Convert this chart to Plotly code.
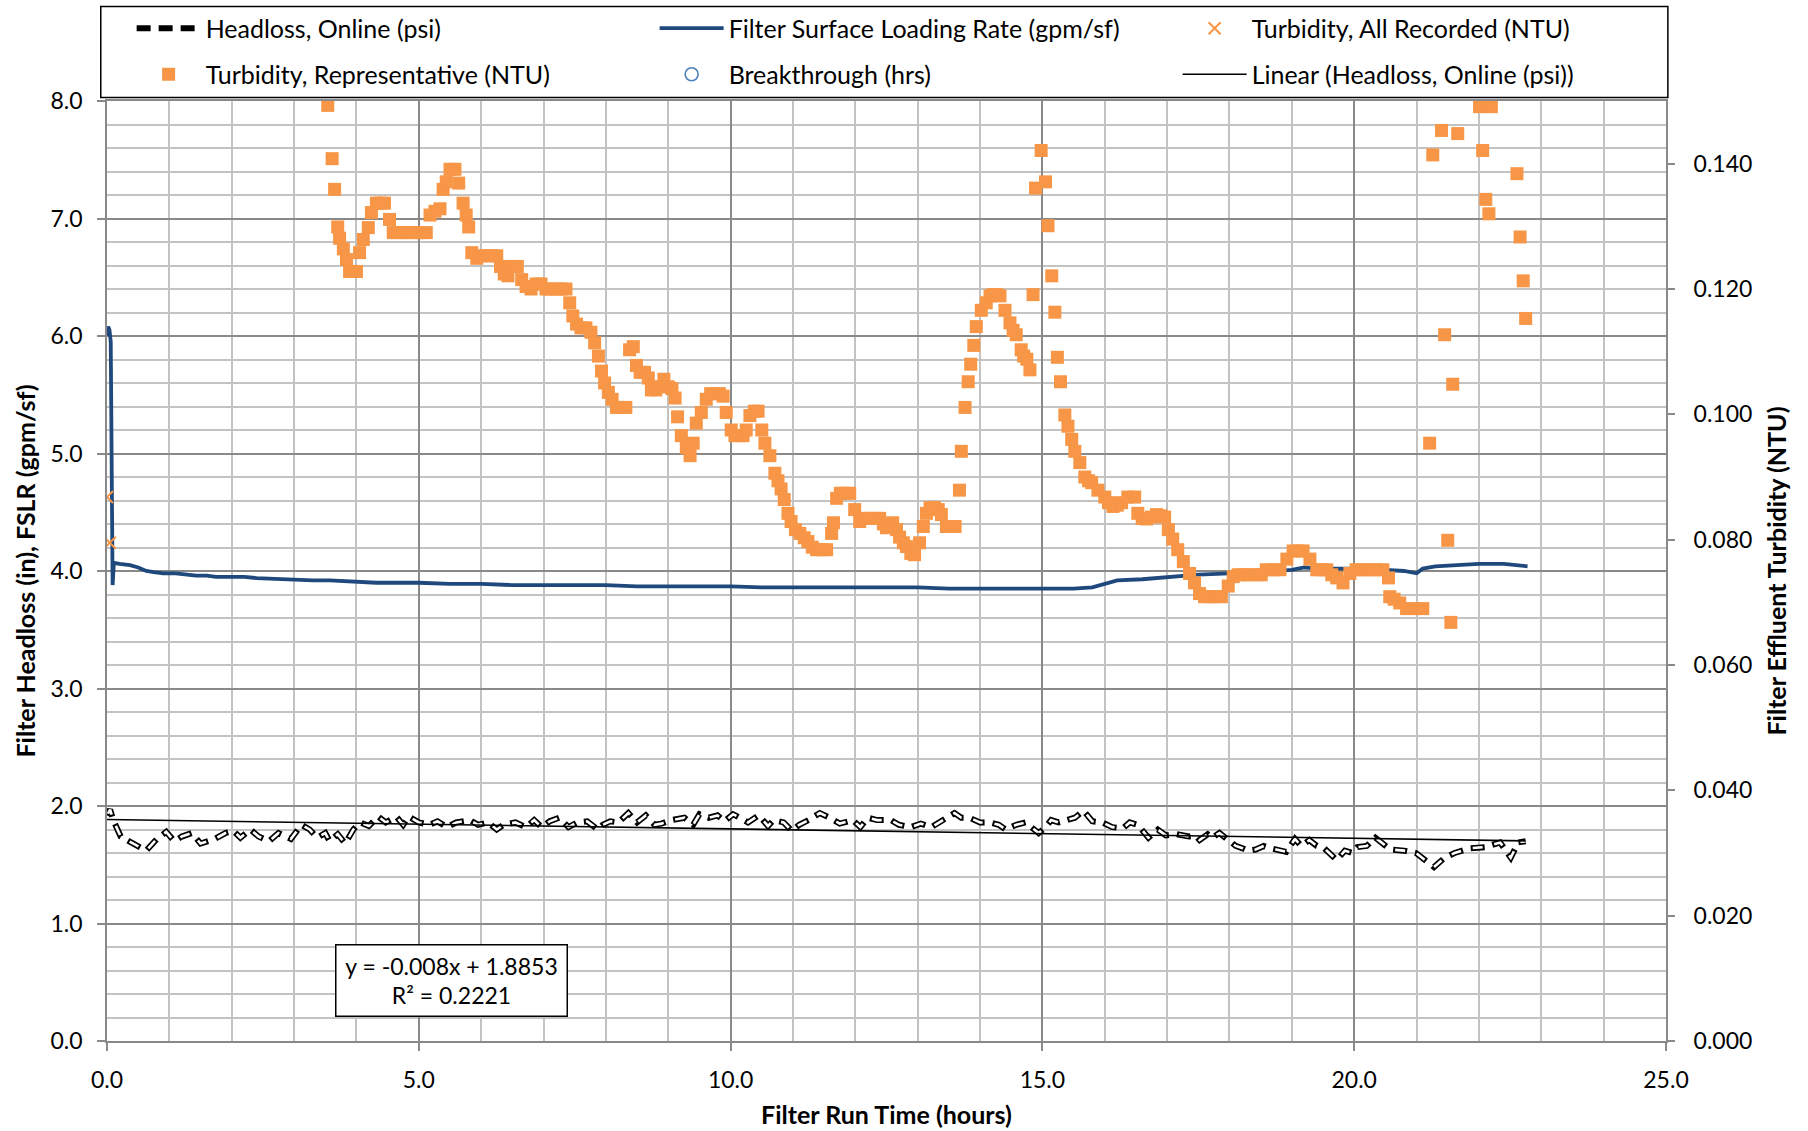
import plotly.graph_objects as go

# --- data ---
fslr_t = [0.00, 0.02, 0.04, 0.06, 0.09, 0.11, 0.20, 0.37, 0.50, 0.63, 0.75, 0.90, 1.10, 1.25, 1.43,
          1.60, 1.75, 1.97, 2.20, 2.40, 2.77, 3.00, 3.30, 3.57, 4.00, 4.32, 5.00, 5.50, 6.00, 6.50,
          7.00, 7.50, 8.00, 8.50, 9.00, 9.50, 10.00, 10.50, 11.00, 11.50, 12.00, 12.50, 13.00, 13.50,
          14.00, 14.50, 15.00, 15.50, 15.80, 16.00, 16.20, 16.60, 17.00, 17.50, 18.00, 18.50, 19.00,
          19.20, 19.50, 20.00, 20.50, 20.80, 21.00, 21.10, 21.30, 21.60, 22.00, 22.40, 22.78]
fslr_v = [6.00, 6.08, 6.05, 5.95, 3.88, 4.07, 4.06, 4.05, 4.03, 4.00, 3.99, 3.98, 3.98, 3.97, 3.96,
          3.96, 3.95, 3.95, 3.95, 3.94, 3.93, 3.93, 3.92, 3.92, 3.91, 3.90, 3.90, 3.89, 3.89, 3.88,
          3.88, 3.88, 3.88, 3.87, 3.87, 3.87, 3.87, 3.86, 3.86, 3.86, 3.86, 3.86, 3.86, 3.85,
          3.85, 3.85, 3.85, 3.85, 3.86, 3.89, 3.92, 3.93, 3.95, 3.97, 3.98, 3.99, 4.01,
          4.03, 4.02, 4.02, 4.01, 4.00, 3.98, 4.02, 4.04, 4.05, 4.06, 4.06, 4.04]

headloss_t = [0.00, 0.05, 0.10, 0.22, 0.35, 0.46, 0.63, 0.80, 0.95, 1.08, 1.20, 1.36, 1.50, 1.73, 1.90,
              2.02, 2.14, 2.30, 2.43, 2.60, 2.75, 2.95, 3.12, 3.25, 3.37, 3.50, 3.57, 3.70, 3.82, 3.95,
              4.06, 4.20, 4.35, 4.47, 4.64, 4.75, 4.84, 5.00, 5.17, 5.30, 5.45, 5.60, 5.82, 5.95, 6.11,
              6.25, 6.36, 6.55, 6.72, 6.85, 6.97, 7.10, 7.25, 7.40, 7.54, 7.70, 7.87, 7.95, 8.07, 8.20,
              8.36, 8.50, 8.64, 8.78, 8.89, 9.05, 9.26, 9.40, 9.50, 9.65, 9.79, 9.90, 10.04, 10.15,
              10.28, 10.45, 10.60, 10.69, 10.85, 10.98, 11.10, 11.25, 11.43, 11.59, 11.75, 11.96,
              12.08, 12.20, 12.35, 12.57, 12.70, 12.89, 13.05, 13.22, 13.40, 13.59, 13.70, 13.83,
              14.00, 14.16, 14.30, 14.41, 14.58, 14.73, 14.94, 15.05, 15.14, 15.26, 15.39, 15.52,
              15.66, 15.80, 15.96, 16.12, 16.29, 16.40, 16.53, 16.70, 16.85, 16.98, 17.15, 17.35,
              17.45, 17.52, 17.65, 17.72, 17.84, 18.01, 18.10, 18.21, 18.30, 18.42, 18.55, 18.66,
              18.80, 18.91, 19.05, 19.15, 19.28, 19.40, 19.52, 19.62, 19.72, 19.85, 19.97, 20.05,
              20.20, 20.34, 20.58, 20.80, 20.99, 21.28, 21.45, 21.61, 21.85, 22.10, 22.34, 22.51,
              22.63, 22.75]
headloss_v = [1.92, 1.97, 1.88, 1.74, 1.70, 1.67, 1.62, 1.72, 1.78, 1.70, 1.74, 1.77, 1.68, 1.72, 1.77,
              1.79, 1.73, 1.80, 1.74, 1.70, 1.77, 1.72, 1.84, 1.80, 1.73, 1.77, 1.70, 1.76, 1.68, 1.80,
              1.86, 1.83, 1.91, 1.86, 1.91, 1.84, 1.91, 1.86, 1.84, 1.87, 1.82, 1.86, 1.88, 1.84, 1.86,
              1.80, 1.84, 1.86, 1.82, 1.88, 1.82, 1.87, 1.90, 1.82, 1.86, 1.87, 1.80, 1.84, 1.87, 1.86,
              1.94, 1.86, 1.92, 1.84, 1.85, 1.88, 1.90, 1.84, 1.93, 1.90, 1.92, 1.87, 1.93, 1.90,
              1.86, 1.92, 1.83, 1.88, 1.86, 1.79, 1.84, 1.88, 1.94, 1.90, 1.85, 1.88,
              1.82, 1.90, 1.88, 1.88, 1.84, 1.82, 1.85, 1.82, 1.88, 1.94, 1.90, 1.90,
              1.86, 1.86, 1.84, 1.80, 1.84, 1.86, 1.77, 1.82, 1.88, 1.86, 1.88, 1.90,
              1.96, 1.87, 1.86, 1.82, 1.81, 1.86, 1.84, 1.73, 1.80, 1.75, 1.76, 1.74,
              1.75, 1.71, 1.76, 1.73, 1.77, 1.70, 1.66, 1.64, 1.62, 1.63, 1.66, 1.64,
              1.62, 1.61, 1.72, 1.66, 1.71, 1.66, 1.64, 1.59, 1.54, 1.62, 1.60, 1.65,
              1.66, 1.73, 1.63, 1.62, 1.60, 1.48, 1.56, 1.60, 1.64, 1.65, 1.69, 1.56,
              1.69, 1.70]

turb_all_t = [0.00, 0.045]
turb_all_ntu = [0.0868, 0.0795]

turb_t = [3.54, 3.61, 3.65, 3.70, 3.73, 3.79, 3.84, 3.89, 3.95, 4.00, 4.05, 4.11, 4.19, 4.24, 4.32,
          4.38, 4.45, 4.53, 4.59, 4.66, 4.74, 4.82, 4.90, 4.98, 5.06, 5.12, 5.18, 5.26, 5.34, 5.39,
          5.44, 5.50, 5.58, 5.64, 5.71, 5.76, 5.80, 5.85, 5.93, 6.01, 6.09, 6.17, 6.25, 6.31, 6.37,
          6.43, 6.51, 6.58, 6.65, 6.72, 6.80, 6.88, 6.96, 7.04, 7.12, 7.20, 7.28, 7.36, 7.42, 7.47,
          7.53, 7.60, 7.68, 7.76, 7.82, 7.88, 7.93, 7.98, 8.04, 8.10, 8.17, 8.25, 8.32, 8.38, 8.44,
          8.49, 8.55, 8.62, 8.68, 8.73, 8.80, 8.87, 8.93, 9.00, 9.06, 9.11, 9.15, 9.21, 9.29, 9.35,
          9.40, 9.45, 9.53, 9.61, 9.68, 9.75, 9.82, 9.88, 9.93, 10.01, 10.07, 10.14, 10.20, 10.25,
          10.31, 10.38, 10.44, 10.50, 10.55, 10.63, 10.71, 10.76, 10.81, 10.86, 10.92, 10.97, 11.04,
          11.11, 11.18, 11.24, 11.31, 11.38, 11.46, 11.54, 11.62, 11.65, 11.70, 11.76, 11.83, 11.91,
          11.99, 12.07, 12.15, 12.23, 12.31, 12.39, 12.45, 12.50, 12.60, 12.66, 12.71, 12.77, 12.82,
          12.89, 12.95, 13.03, 13.09, 13.14, 13.20, 13.27, 13.33, 13.38, 13.46, 13.53, 13.60, 13.67,
          13.70, 13.76, 13.81, 13.85, 13.90, 13.94, 14.02, 14.10, 14.16, 14.21, 14.27, 14.32, 14.40,
          14.48, 14.53, 14.58, 14.66, 14.70, 14.75, 14.80, 14.85, 14.89, 14.98, 15.05, 15.09, 15.15,
          15.20, 15.24, 15.29, 15.36, 15.41, 15.47, 15.52, 15.60, 15.68, 15.74, 15.79, 15.89, 16.00,
          16.06, 16.13, 16.20, 16.27, 16.37, 16.48, 16.53, 16.60, 16.67, 16.75, 16.83, 16.90, 16.96,
          17.02, 17.09, 17.17, 17.26, 17.36, 17.44, 17.52, 17.60, 17.68, 17.78, 17.87, 17.98, 18.06,
          18.14, 18.22, 18.30, 18.43, 18.51, 18.59, 18.70, 18.81, 18.92, 19.02, 19.10, 19.18, 19.29,
          19.40, 19.48, 19.56, 19.64, 19.72, 19.82, 19.93, 20.03, 20.14, 20.25, 20.35, 20.46, 20.55,
          20.57, 20.64, 20.73, 20.84, 20.97, 21.10, 21.21, 21.26, 21.40, 21.45, 21.50, 21.55, 21.58,
          21.66, 22.01, 22.06, 22.11, 22.16, 22.20, 22.61, 22.66, 22.71, 22.75]
turb_ntu = [0.1493, 0.1408, 0.1359, 0.1299, 0.1281, 0.1264, 0.1247, 0.1228, 0.1228, 0.1228, 0.1258,
            0.1279, 0.1298, 0.1322, 0.1337, 0.1337, 0.1337, 0.1311, 0.1290, 0.1290, 0.1290, 0.1290,
            0.1290, 0.1290, 0.1290, 0.1290, 0.1318, 0.1324, 0.1328, 0.1359, 0.1371, 0.1391, 0.1391,
            0.1369, 0.1337, 0.1318, 0.1299, 0.1258, 0.1249, 0.1253, 0.1253, 0.1253, 0.1253, 0.1236,
            0.1224, 0.1221, 0.1236, 0.1236, 0.1215, 0.1204, 0.1200, 0.1208, 0.1208, 0.1200, 0.1200,
            0.1200, 0.1200, 0.1200, 0.1178, 0.1157, 0.1144, 0.1138, 0.1138, 0.1131, 0.1114, 0.1093,
            0.1069, 0.1050, 0.1035, 0.1024, 0.1011, 0.1011, 0.1011, 0.1103, 0.1108, 0.1078, 0.1067,
            0.1067, 0.1058, 0.1039, 0.1039, 0.1044, 0.1056, 0.1044, 0.1041, 0.1026, 0.0996, 0.0966,
            0.0947, 0.0934, 0.0954, 0.0986, 0.1003, 0.1024, 0.1033, 0.1033, 0.1033, 0.1029, 0.1003,
            0.0975, 0.0966, 0.0966, 0.0966, 0.0975, 0.0998, 0.1005, 0.1005, 0.0975, 0.0954, 0.0934,
            0.0906, 0.0894, 0.0881, 0.0864, 0.0842, 0.0829, 0.0816, 0.0810, 0.0803, 0.0797, 0.0788,
            0.0784, 0.0784, 0.0784, 0.0810, 0.0827, 0.0866, 0.0874, 0.0874, 0.0874, 0.0848, 0.0829,
            0.0834, 0.0834, 0.0834, 0.0834, 0.0825, 0.0819, 0.0827, 0.0816, 0.0804, 0.0795, 0.0789,
            0.0778, 0.0776, 0.0795, 0.0821, 0.0842, 0.0851, 0.0851, 0.0848, 0.0840, 0.0821, 0.0821,
            0.0821, 0.0879, 0.0941, 0.1011, 0.1052, 0.1080, 0.1110, 0.1140, 0.1166, 0.1178, 0.1189,
            0.1191, 0.1191, 0.1189, 0.1166, 0.1146, 0.1134, 0.1127, 0.1103, 0.1093, 0.1088, 0.1071,
            0.1191, 0.1361, 0.1421, 0.1371, 0.1301, 0.1221, 0.1163, 0.1091, 0.1052, 0.0999, 0.0981,
            0.0960, 0.0941, 0.0923, 0.0900, 0.0894, 0.0891, 0.0879, 0.0868, 0.0859, 0.0853, 0.0855,
            0.0859, 0.0868, 0.0868, 0.0842, 0.0834, 0.0833, 0.0836, 0.0840, 0.0838, 0.0836, 0.0816,
            0.0801, 0.0784, 0.0765, 0.0746, 0.0731, 0.0714, 0.0709, 0.0709, 0.0709, 0.0709, 0.0726,
            0.0741, 0.0744, 0.0744, 0.0744, 0.0744, 0.0744, 0.0752, 0.0752, 0.0752, 0.0769, 0.0782,
            0.0782, 0.0782, 0.0769, 0.0752, 0.0752, 0.0752, 0.0744, 0.0739, 0.0731, 0.0746, 0.0752,
            0.0752, 0.0752, 0.0752, 0.0752, 0.0739, 0.0709, 0.0705, 0.0699, 0.0690, 0.0690, 0.0690,
            0.0954, 0.1414, 0.1453, 0.1127, 0.0799, 0.0668, 0.1048, 0.1448, 0.1491, 0.1421, 0.1343,
            0.1320, 0.1491, 0.1384, 0.1283, 0.1213, 0.1153]

trend_slope = -0.008
trend_intercept = 1.8853
trend_t = [0.0, 22.75]
trend_v = [trend_slope * t + trend_intercept for t in trend_t]

FONT = "Lato, Arial, sans-serif"
ORANGE = "#F79646"
NAVY = "#1F497D"
MAJOR = "#898989"
MINOR = "#C3C3C3"

fig = go.Figure()

# headloss: thick dashed black with a white core so the dashes look hollow
fig.add_trace(go.Scatter(x=headloss_t, y=headloss_v, mode="lines", name="Headloss, Online (psi)",
                         line=dict(color="black", width=6, dash="14px,8px"), legend="legend"))
fig.add_trace(go.Scatter(x=headloss_t, y=headloss_v, mode="lines", showlegend=False, hoverinfo="skip",
                         line=dict(color="white", width=2.6, dash="0px,2px,10px,10px")))
fig.add_trace(go.Scatter(x=fslr_t, y=fslr_v, mode="lines", name="Filter Surface Loading Rate (gpm/sf)",
                         line=dict(color=NAVY, width=3.8), legend="legend"))
fig.add_trace(go.Scatter(x=turb_all_t, y=turb_all_ntu, mode="markers", name="Turbidity, All Recorded (NTU)",
                         marker=dict(symbol="x-thin", size=12, line=dict(color=ORANGE, width=2)),
                         yaxis="y2", legend="legend", legendwidth=345))
fig.add_trace(go.Scatter(x=turb_t, y=turb_ntu, mode="markers", name="Turbidity, Representative (NTU)",
                         marker=dict(symbol="square", size=13, color=ORANGE, line=dict(width=0)),
                         yaxis="y2", legend="legend2"))
fig.add_trace(go.Scatter(x=[None], y=[None], mode="markers", name="Breakthrough (hrs)",
                         marker=dict(symbol="circle-open", size=13, color="#4F81BD", line=dict(width=1.6)),
                         legend="legend2"))
fig.add_trace(go.Scatter(x=trend_t, y=trend_v, mode="lines", name="Linear (Headloss, Online (psi))",
                         line=dict(color="black", width=1.6), legend="legend2", legendwidth=345))

axis_common = dict(showline=True, linecolor=MAJOR, linewidth=1.5, mirror=True, zeroline=False,
                   ticks="outside", ticklen=8, tickcolor=MAJOR, tickwidth=1.5, automargin=False,
                   gridcolor=MAJOR, gridwidth=1.5, tickfont=dict(family=FONT, size=23, color="black"))

legend_common = dict(orientation="h", xanchor="left", yanchor="middle", bgcolor="rgba(0,0,0,0)",
                     borderwidth=0, font=dict(family=FONT, size=25, color="black"),
                     itemwidth=64, entrywidth=444, traceorder="normal", itemclick=False)

TITLE_FONT = dict(family=FONT, size=25, color="black")

fig.update_layout(
    width=1808, height=1131,
    margin=dict(l=107, r=142, t=101, b=90, autoexpand=False),
    paper_bgcolor="white", plot_bgcolor="white",
    font=dict(family=FONT, size=23, color="black"),
    xaxis=dict(axis_common, range=[0, 25], dtick=5, tickformat=".1f", ticklabelstandoff=10,
               minor=dict(dtick=1, showgrid=True, gridcolor=MINOR, gridwidth=1.5, ticks=""),
               title=dict(text="<b>Filter Run Time (hours)</b>", standoff=14, font=TITLE_FONT)),
    yaxis=dict(axis_common, range=[0, 8], dtick=1, tickformat=".1f", ticklabelstandoff=10,
               minor=dict(dtick=0.2, showgrid=True, gridcolor=MINOR, gridwidth=1.5, ticks=""),
               title=dict(text="<b>Filter Headloss (in), FSLR (gpm/sf)</b>", standoff=8, font=TITLE_FONT)),
    yaxis2=dict(overlaying="y", side="right", range=[0, 0.15], dtick=0.02, tickformat=".3f",
                showgrid=False, zeroline=False, showline=False, ticks="outside", ticklen=8,
                tickcolor=MAJOR, tickwidth=1.5, ticklabelstandoff=14, automargin=False,
                tickfont=dict(family=FONT, size=23, color="black"),
                title=dict(text="<b>Filter Effluent Turbidity (NTU)</b>", standoff=17, font=TITLE_FONT)),
    legend=dict(legend_common, x=0.0158, y=1.0772),
    legend2=dict(legend_common, x=0.0158, y=1.0282),
    showlegend=True,
    shapes=[dict(type="rect", xref="paper", yref="paper", x0=-0.004, x1=1.0012, y0=1.0037, y1=1.1006,
                 line=dict(color="black", width=1.5), fillcolor="rgba(0,0,0,0)", layer="above")],
    annotations=[dict(xref="paper", yref="paper", x=0.2212, y=0.0639, xanchor="center", yanchor="middle",
                      text="y = -0.008x + 1.8853<br>R² = 0.2221", showarrow=False, align="center",
                      width=222, height=62, borderpad=4, borderwidth=1.5, bordercolor="black",
                      bgcolor="white", font=dict(family=FONT, size=23, color="black"))],
)

# drop the browser's default body margin so the figure sits at the window's top-left corner
fig.write_html("out.html", config={"displayModeBar": False},
               post_script="document.body.style.margin = '0';")
